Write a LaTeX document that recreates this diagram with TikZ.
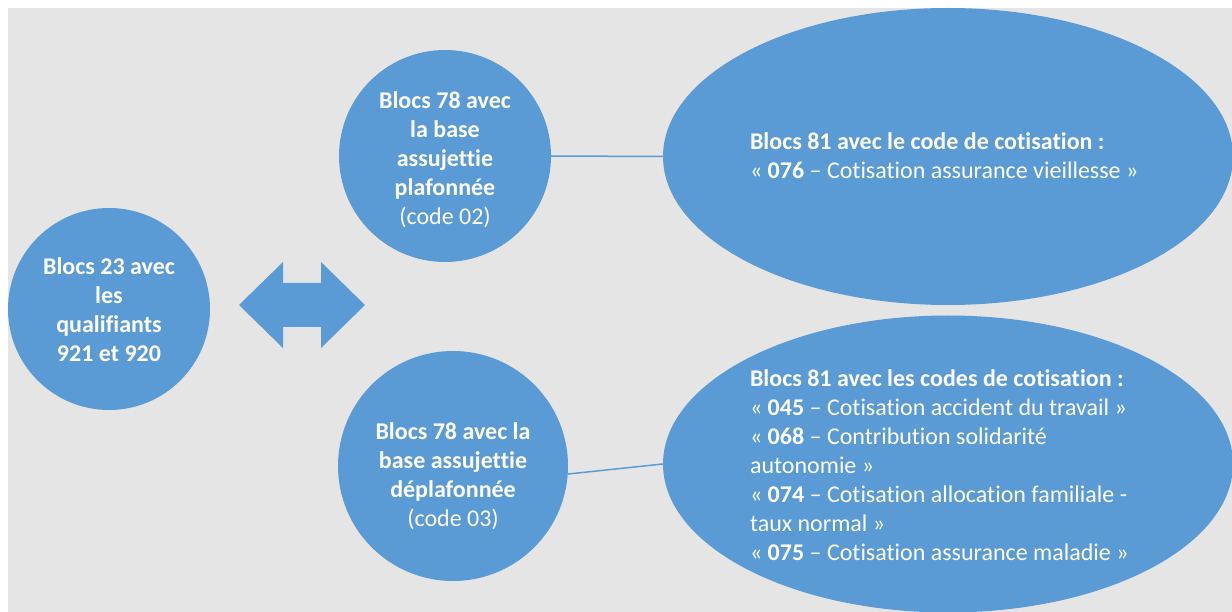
\documentclass[tikz,border=0pt]{standalone}
\usepackage{fontspec}
\setmainfont{Carlito}[Ligatures={NoCommon}]
\usetikzlibrary{shapes.geometric}
\definecolor{blu}{HTML}{5B9BD5}
\definecolor{bg}{HTML}{E5E5E5}
\begin{document}
\begin{tikzpicture}[x=1pt,y=-1pt,
  blob/.style={fill=blu,draw=none,inner sep=0pt},
  circ/.style={blob,circle},
  ell/.style={blob,ellipse},
  txt/.style={text=white,font=\fontsize{24}{29}\selectfont,align=center,inner sep=0pt},
  ltxt/.style={txt,align=left,anchor=west}]
\useasboundingbox (0,0) rectangle (1232,612);
\fill[white] (0,0) rectangle (1232,612);
\fill[bg] (8,8) rectangle (1232,612);
\begin{scope}
\clip (8,8) rectangle (1232,612);
\node[circ,minimum size=202pt] (c1) at (109,309) {};
\node[circ,minimum size=212pt] (c2) at (445,156) {};
\node[circ,minimum size=230pt] (c3) at (453,466) {};
\node[ell,minimum width=570pt,minimum height=297pt] (e1) at (948,156.5) {};
\node[ell,minimum width=570pt,minimum height=297pt] (e2) at (948,464) {};
\end{scope}
\node[txt] (t1) at ([yshift=-1pt]c1.center) {\bfseries Blocs 23 avec\\\bfseries les\\\bfseries qualifiants\\\bfseries 921 et 920};
\node[txt] (t2) at ([yshift=-4pt]c2.center) {\bfseries Blocs 78 avec\\\bfseries la base\\\bfseries assujettie\\\bfseries plafonnée\\(code 02)};
\node[txt] (t3) at ([yshift=-10pt]c3.center) {\bfseries Blocs 78 avec la\\\bfseries base assujettie\\\bfseries déplafonnée\\(code 03)};
\node[ltxt] (t4) at ([xshift=87pt,yshift=1pt]e1.west) {\textbf{Blocs 81 avec le code de cotisation :}\\« \textbf{076} – Cotisation assurance vieillesse »};
\node[ltxt] (t5) at ([xshift=87pt,yshift=-1.5pt]e2.west) {\textbf{Blocs 81 avec les codes de cotisation :}\\« \textbf{045} – Cotisation accident du travail »\\« \textbf{068} – Contribution solidarité\\autonomie »\\« \textbf{074} – Cotisation allocation familiale -\\taux normal »\\« \textbf{075} – Cotisation assurance maladie »};
\draw[draw=blu,line width=1.5pt] (c2.east) -- (e1.west);
\draw[draw=blu,line width=1.5pt] (c3.-4) -- (e2.west);
\fill[blu] (239,305) -- (283,262) -- (283,283) -- (321,283) -- (321,262) -- (365,305)
  -- (321,348) -- (321,327) -- (283,327) -- (283,348) -- cycle;
\end{tikzpicture}
\end{document}
